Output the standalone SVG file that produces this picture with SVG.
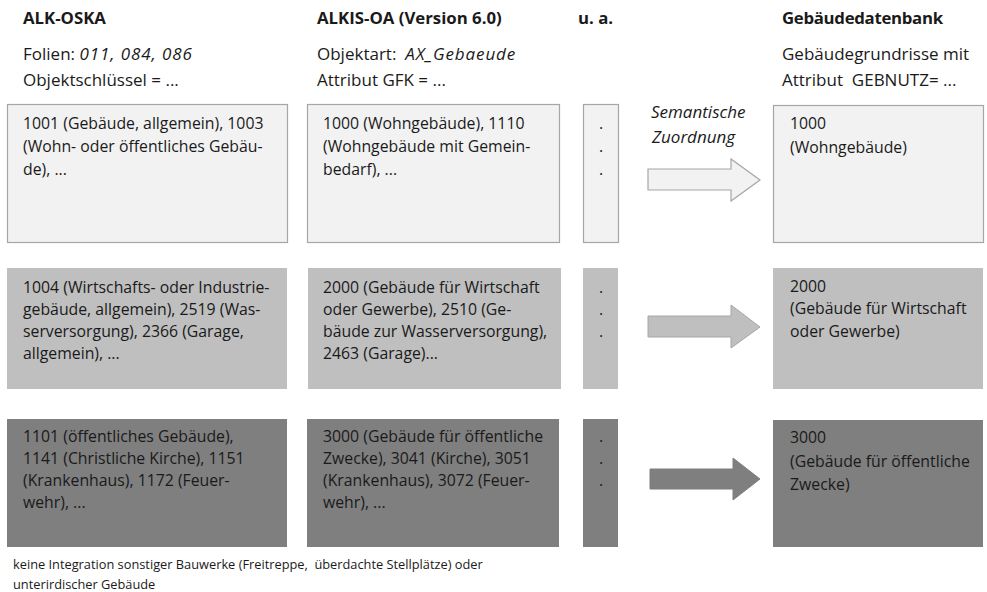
<svg xmlns="http://www.w3.org/2000/svg" width="987" height="592" viewBox="0 0 987 592">
<style>
text{font-family:"Open Sans","Noto Sans","Liberation Sans",sans-serif;fill:#1a1a1a;font-size:15.8px}
.hd{font-size:17px}
.h{font-weight:bold;font-size:16.8px}
.i{font-style:italic}
.it{font-style:italic;letter-spacing:0.9px}
.s{font-size:17px}
.f{font-size:12.8px}
.r1{fill:#f2f2f2;stroke:#a6a6a6;stroke-width:1.2}
.r2{fill:#bfbfbf}
.r3{fill:#7f7f7f}
.a1{fill:#f2f2f2;stroke:#a6a6a6;stroke-width:1.2}
.a2{fill:#bfbfbf;stroke:#a6a6a6;stroke-width:1}
.a3{fill:#7f7f7f;stroke:#7f7f7f;stroke-width:1}
</style>
<g id="headers">
<text class="h" x="23" y="24">ALK-OSKA</text>
<text class="hd" x="23" y="60">Folien: <tspan class="it">011, 084, 086</tspan></text>
<text class="hd" x="23" y="86">Objektschlüssel = ...</text>
<text class="h" x="317" y="24">ALKIS-OA (Version 6.0)</text>
<text class="hd" x="317" y="60">Objektart:&#160; <tspan class="it">AX_Gebaeude</tspan></text>
<text class="hd" x="317" y="86">Attribut GFK = ...</text>
<text class="h" x="578" y="24">u. a.</text>
<text class="h" x="782" y="24" letter-spacing="-0.3">Gebäudedatenbank</text>
<text class="hd" x="782" y="60">Gebäudegrundrisse mit</text>
<text class="hd" x="782" y="86">Attribut&#160; GEBNUTZ= ...</text>
</g>
<g id="r1a"><rect class="r1" x="7.5" y="104.5" width="280" height="138"/>
<text x="23" y="129">1001 (Gebäude, allgemein), 1003</text>
<text x="23" y="152">(Wohn- oder öffentliches Gebäu-</text>
<text x="23" y="175">de), ...</text></g>
<g id="r1b"><rect class="r1" x="307.5" y="104.5" width="252" height="138"/>
<text x="323" y="129">1000 (Wohngebäude), 1110</text>
<text x="323" y="152">(Wohngebäude mit Gemein-</text>
<text x="323" y="175">bedarf), ...</text></g>
<g id="r1c"><rect class="r1" x="583.5" y="104.5" width="35" height="138"/>
<text x="599" y="129">.</text><text x="599" y="152">.</text><text x="599" y="175">.</text></g>
<g id="r1d"><rect class="r1" x="773.5" y="105.5" width="210" height="137"/>
<text x="790" y="129">1000</text>
<text x="790" y="153">(Wohngebäude)</text></g>
<g id="r2a"><rect class="r2" x="7" y="268" width="280" height="121"/>
<text x="23" y="293">1004 (Wirtschafts- oder Industrie-</text>
<text x="23" y="315">gebäude, allgemein), 2519 (Was-</text>
<text x="23" y="337">serversorgung), 2366 (Garage,</text>
<text x="23" y="359">allgemein), ...</text></g>
<g id="r2b"><rect class="r2" x="308" y="268" width="253" height="121"/>
<text x="323" y="293">2000 (Gebäude für Wirtschaft</text>
<text x="323" y="315">oder Gewerbe), 2510 (Ge-</text>
<text x="323" y="337">bäude zur Wasserversorgung),</text>
<text x="323" y="359">2463 (Garage)...</text></g>
<g id="r2c"><rect class="r2" x="583" y="268" width="35" height="121"/>
<text x="599" y="293">.</text><text x="599" y="315">.</text><text x="599" y="337">.</text></g>
<g id="r2d"><rect class="r2" x="773" y="268" width="210" height="121"/>
<text x="790" y="292">2000</text>
<text x="790" y="314">(Gebäude für Wirtschaft</text>
<text x="790" y="337">oder Gewerbe)</text></g>
<g id="r3a"><rect class="r3" x="7" y="419" width="280" height="128"/>
<text x="23" y="442">1101 (öffentliches Gebäude),</text>
<text x="23" y="464">1141 (Christliche Kirche), 1151</text>
<text x="23" y="486">(Krankenhaus), 1172 (Feuer-</text>
<text x="23" y="508">wehr), ...</text></g>
<g id="r3b"><rect class="r3" x="307" y="419" width="252" height="128"/>
<text x="323" y="442">3000 (Gebäude für öffentliche</text>
<text x="323" y="464">Zwecke), 3041 (Kirche), 3051</text>
<text x="323" y="486">(Krankenhaus), 3072 (Feuer-</text>
<text x="323" y="508">wehr), ...</text></g>
<g id="r3c"><rect class="r3" x="583" y="419" width="35" height="128"/>
<text x="599" y="442">.</text><text x="599" y="464">.</text><text x="599" y="486">.</text></g>
<g id="r3d"><rect class="r3" x="773" y="420" width="210" height="127"/>
<text x="790" y="443">3000</text>
<text x="790" y="467">(Gebäude für öffentliche</text>
<text x="790" y="490">Zwecke)</text></g>
<g id="connectors">
<text class="i s" x="651" y="118">Semantische</text>
<text class="i s" x="652" y="143">Zuordnung</text>
<polygon class="a1" points="648,169 731,169 731,159 760,180 731,201 731,190 648,190"/>
<polygon class="a2" points="648,316 731,316 731,305 760,327 731,348 731,337 648,337"/>
<polygon class="a3" points="650,469 733,469 733,458 760,479 733,500 733,489 650,489"/>
</g>
<g id="footer">
<text class="f" x="13" y="569">keine Integration sonstiger Bauwerke (Freitreppe,&#160; überdachte Stellplätze) oder</text>
<text class="f" x="13" y="589">unterirdischer Gebäude</text>
</g>
</svg>
